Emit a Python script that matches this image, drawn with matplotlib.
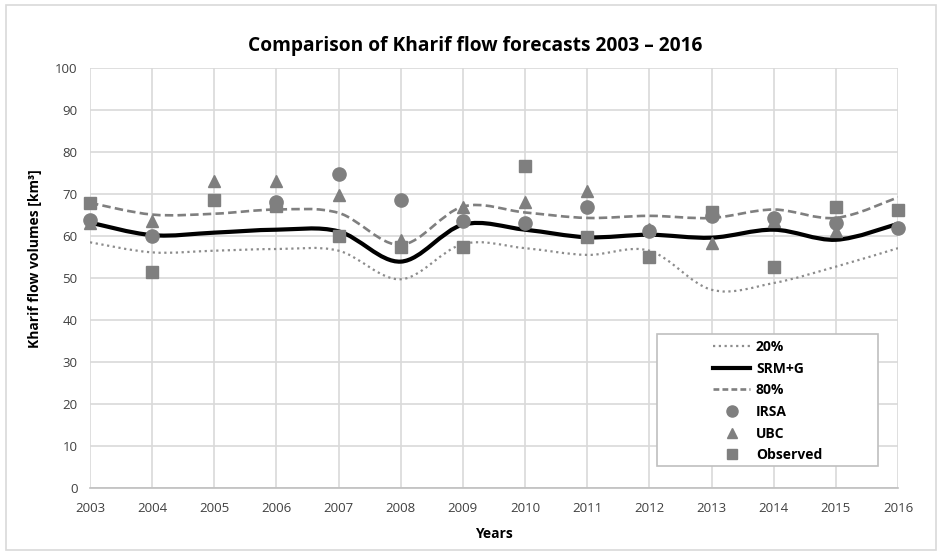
import numpy as np
import matplotlib
matplotlib.use("Agg")
import matplotlib.pyplot as plt
from matplotlib.path import Path
from matplotlib.patches import PathPatch, Rectangle
from matplotlib.lines import Line2D

plt.rcParams['font.family'] = ['Open Sans', 'DejaVu Sans']

# ---------------------------
# data
# ---------------------------
years = [2003, 2004, 2005, 2006, 2007, 2008, 2009, 2010, 2011, 2012, 2013, 2014, 2015, 2016]
p20 = [58.5, 56.1, 56.5, 56.9, 56.5, 49.7, 58.1, 57.1, 55.5, 56.5, 47.2, 48.8, 52.7, 57.1]
srm_g = [63.2, 60.2, 60.8, 61.5, 61.1, 53.9, 62.7, 61.5, 59.7, 60.3, 59.6, 61.5, 59.1, 62.9]
p80 = [67.9, 65.1, 65.3, 66.3, 65.5, 57.9, 67.0, 65.6, 64.3, 64.8, 64.3, 66.3, 64.3, 69.2]
irsa = [63.7, 60.1, np.nan, 68.1, 74.7, 68.5, 63.6, 63.2, 66.9, 61.1, 64.7, 64.3, 63.2, 62.0]
ubc = [63.1, 63.5, 73.2, 73.2, 69.8, 59.1, 66.9, 68.2, 70.6, 61.6, 58.4, 63.6, 61.1, np.nan]
observed = [67.9, 51.4, 68.6, 67.2, 60.0, 57.5, 57.5, 76.6, 59.7, 55.1, 65.6, 52.6, 66.9, 66.1]

GREY = "#7f7f7f"
GRID = "#d9d9d9"


def smooth_path(x, y):
    """Excel-style smoothed line as cubic Bezier segments"""
    pts = np.column_stack([x, y]).astype(float)
    n = len(pts)
    verts = [pts[0]]
    codes = [Path.MOVETO]
    for i in range(n - 1):
        p0 = pts[max(i - 1, 0)]
        p1 = pts[i]
        p2 = pts[i + 1]
        p3 = pts[min(i + 2, n - 1)]
        verts += [p1 + (p2 - p0) / 6.0, p2 - (p3 - p1) / 6.0, p2]
        codes += [Path.CURVE4] * 3
    return Path(verts, codes)


fig = plt.figure(figsize=(9.38, 5.56), dpi=100)
ax = fig.add_axes([90 / 938, 1 - 488 / 556, 808 / 938, 420 / 556])

# outer chart border
fig.patches.append(Rectangle((6 / 938, 1 - 550 / 556), 930 / 938, 545 / 556,
                             transform=fig.transFigure, fill=False,
                             edgecolor=GRID, lw=1.2))

# smoothed lines
styles = {
    "20%": dict(color="#8c8c8c", lw=1.6, linestyle=(0, (1, 1.6))),
    "SRM+G": dict(color="black", lw=3.0, linestyle="-"),
    "80%": dict(color=GREY, lw=1.9, linestyle=(0, (3.2, 1.6))),
}
for name, vals in [("20%", p20), ("SRM+G", srm_g), ("80%", p80)]:
    st = styles[name]
    ax.add_patch(PathPatch(smooth_path(years, vals), fill=False, zorder=3,
                           edgecolor=st["color"], lw=st["lw"],
                           linestyle=st["linestyle"], capstyle="butt"))

# markers
ax.plot(years, ubc, linestyle="none", marker="^", ms=9, color=GREY, zorder=4, clip_on=False)
ax.plot(years, irsa, linestyle="none", marker="o", ms=9.5, color=GREY, zorder=5, clip_on=False)
ax.plot(years, observed, linestyle="none", marker="s", ms=8.5, color=GREY, zorder=6, clip_on=False)

ax.set_xlim(2003, 2016)
ax.set_ylim(0, 100)
ax.set_xticks(years)
ax.set_yticks(range(0, 101, 10))
ax.tick_params(length=0, labelsize=9.5, colors="#404040")
ax.tick_params(axis="x", pad=10)
ax.tick_params(axis="y", pad=9)
ax.grid(True, color=GRID, lw=1.2)
ax.set_axisbelow(True)
for s in ["top", "right", "left"]:
    ax.spines[s].set_visible(False)
ax.spines["bottom"].set_color("#bfbfbf")
ax.spines["bottom"].set_linewidth(1.2)

ax.set_xlabel("Years", fontsize=10, fontweight="bold", labelpad=9)
ax.set_ylabel("Kharif flow volumes [km³]", fontsize=10, fontweight="bold")
ax.yaxis.set_label_coords(-0.059, 0.545)

fig.text(475 / 938, 1 - 46 / 556, "Comparison of Kharif flow forecasts 2003 \u2013 2016",
         ha="center", va="center", fontsize=13.8, fontweight="bold")

# legend
handles = [
    Line2D([], [], **styles["20%"]),
    Line2D([], [], color="black", lw=3.0),
    Line2D([], [], color=GREY, lw=1.9, linestyle=(0, (2.2, 1.2))),
    Line2D([], [], linestyle="none", marker="o", ms=8, color=GREY),
    Line2D([], [], linestyle="none", marker="^", ms=7.5, color=GREY),
    Line2D([], [], linestyle="none", marker="s", ms=7.5, color=GREY),
]
labels = ["20%", "SRM+G", "80%", "IRSA", "UBC", "Observed"]
ax.add_patch(Rectangle(((657 - 90) / 808, (488 - 466) / 420), 221 / 808, 132 / 420,
                       transform=ax.transAxes, facecolor="white",
                       edgecolor="#bfbfbf", lw=1.2, zorder=7))
leg = ax.legend(handles, labels, loc="upper left",
                bbox_to_anchor=((706 - 90) / 808, (488 - 333) / 420),
                frameon=False, fontsize=10, handlelength=2.7,
                handletextpad=0.4, labelspacing=0.55, borderpad=0)
leg.set_zorder(8)
for t in leg.get_texts():
    t.set_fontweight("bold")

fig.savefig("out.png", dpi=100)
